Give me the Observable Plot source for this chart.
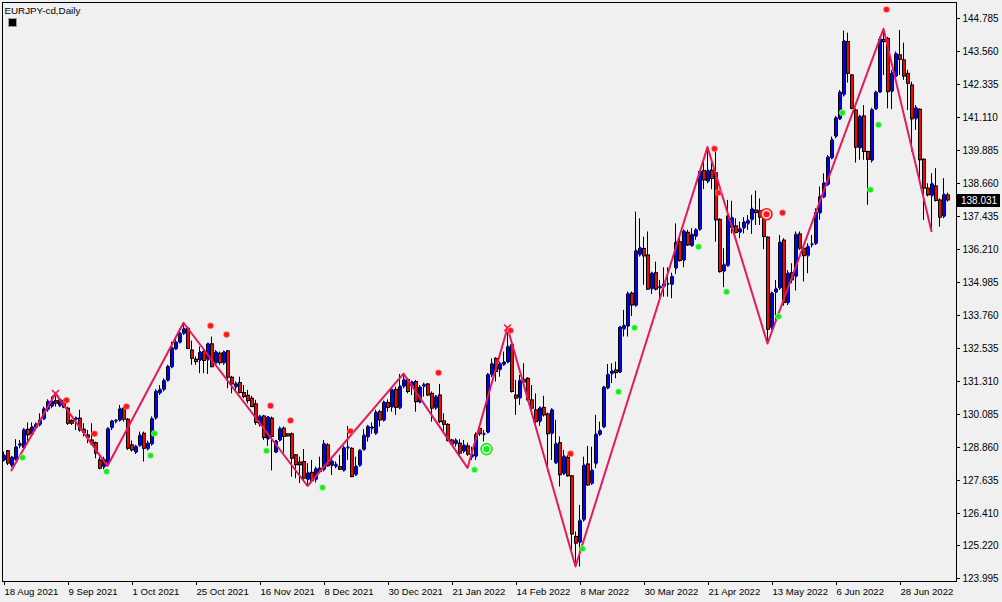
<!DOCTYPE html>
<html>
<head>
<meta charset="utf-8">
<script src="https://cdn.jsdelivr.net/npm/d3@7"></script>
<script src="https://cdn.jsdelivr.net/npm/@observablehq/plot@0.6"></script>
<style>
  html, body { margin: 0; padding: 0; background: #f0f0f0; }
  #chart { width: 1002px; height: 602px; position: relative; }
</style>
</head>
<body>
<div id="chart"></div>
<script>
// ---- data (EURJPY daily, bar index 0 = 18 Aug 2021) ----
const open = [128.36,128.72,128.16,128.38,128.90,128.81,129.52,129.31,129.56,129.68,129.89,130.24,130.36,130.58,130.38,130.58,130.30,129.84,129.87,129.93,
129.52,129.31,129.12,129.02,128.38,128.11,128.26,129.56,129.80,129.84,130.30,129.89,128.94,128.65,128.90,129.37,128.78,128.96,129.93,130.85,
130.98,131.32,131.82,132.49,132.73,133.06,133.27,132.46,132.12,132.07,132.40,132.09,132.69,131.97,132.34,131.97,132.43,131.45,131.08,131.25,
130.88,130.78,130.67,130.46,129.68,130.01,129.15,129.93,128.65,129.10,129.56,129.35,129.35,128.57,128.30,128.32,127.64,127.92,127.64,128.07,
128.01,128.94,128.16,128.13,128.13,127.98,128.81,128.81,127.82,128.16,128.75,129.22,129.54,129.35,130.17,129.84,130.51,130.33,131.00,130.30,
131.10,131.37,131.10,131.29,130.51,131.10,131.20,130.85,130.30,130.79,129.83,129.70,129.12,128.97,129.00,128.69,128.90,128.48,128.50,129.55,
129.31,129.39,131.53,132.15,131.72,131.91,132.00,132.65,130.79,130.67,131.37,131.41,130.61,130.24,129.80,130.33,130.09,129.35,128.26,129.02,
127.86,128.48,127.79,125.54,125.31,126.15,128.23,127.49,128.23,129.31,129.59,131.04,131.57,131.72,131.62,133.23,133.33,134.57,134.10,135.99,
136.23,135.99,134.72,135.33,134.75,134.81,134.89,134.88,135.49,136.48,135.78,136.83,136.32,136.67,136.92,139.12,138.71,139.14,139.04,137.31,
135.37,135.58,136.98,137.07,136.82,136.98,137.14,137.29,137.66,137.63,137.39,136.65,133.27,134.59,134.75,136.54,134.20,135.33,135.18,136.77,
136.24,135.95,136.36,136.40,137.54,138.13,138.59,139.58,140.38,141.03,141.93,143.91,142.67,141.37,139.95,141.15,139.83,139.49,141.40,142.02,
143.99,144.03,142.05,142.61,143.42,143.23,142.73,142.30,141.04,141.40,139.54,138.47,138.18,138.55,138.03,137.41,138.22];
const high = [128.69,128.75,128.53,129.15,129.12,129.56,129.77,129.77,129.77,130.11,130.36,130.63,130.73,130.79,130.67,130.63,130.36,129.89,129.99,130.24,
129.74,129.49,129.74,129.06,128.50,128.50,129.58,129.87,129.89,130.42,130.36,129.93,129.10,128.94,129.43,129.43,129.10,129.99,131.00,131.16,
131.41,131.91,132.77,132.95,133.27,133.48,133.33,132.81,132.22,132.59,132.52,132.73,132.96,132.46,132.40,132.44,132.46,131.50,131.29,131.47,
131.16,130.98,130.76,130.61,130.05,130.05,130.01,129.99,129.12,129.62,129.62,129.37,129.40,128.60,128.50,128.78,128.26,128.38,128.13,128.50,
129.12,129.00,128.44,128.32,128.57,128.90,129.64,128.85,128.50,128.78,129.52,129.68,129.77,130.24,130.24,130.58,130.63,131.04,131.10,131.57,
131.60,131.41,131.32,131.35,131.16,131.25,131.23,130.92,130.79,131.20,130.11,129.74,129.16,129.18,129.15,129.12,129.02,128.87,129.40,129.62,
129.49,131.60,132.15,132.19,132.03,132.40,133.23,132.71,131.35,131.53,131.97,131.45,131.16,130.85,130.36,130.76,130.14,130.30,129.87,129.25,
128.75,128.57,127.82,125.72,126.71,128.50,128.90,128.87,130.05,129.80,131.13,131.94,131.97,132.03,133.35,133.95,134.63,134.63,137.60,137.35,
136.67,136.86,135.37,135.74,135.06,135.53,135.53,135.33,137.16,136.67,136.94,136.92,136.98,136.98,139.14,139.51,140.03,139.51,140.01,137.35,
136.24,138.03,138.00,137.35,137.23,137.39,137.47,138.22,138.38,138.09,137.60,136.67,134.63,135.06,136.73,136.61,135.43,135.68,136.86,136.86,
136.36,136.42,136.73,137.72,138.53,139.02,139.70,140.38,141.15,142.11,144.32,144.24,142.71,141.43,141.19,141.55,139.86,141.45,142.09,144.09,
144.37,144.09,142.86,143.54,144.34,143.87,142.86,142.42,141.55,141.43,139.58,138.65,139.02,139.21,138.09,138.84,138.30];
const low = [128.32,128.19,128.11,128.36,128.81,128.78,128.97,129.25,129.47,129.62,129.87,130.17,130.30,130.36,130.34,130.30,129.68,129.68,129.49,129.43,
129.25,129.00,128.94,128.44,128.03,128.03,128.19,129.49,129.74,129.80,129.80,128.75,128.69,128.60,128.88,128.32,128.73,128.91,129.87,130.79,
130.92,131.29,131.78,132.46,132.71,133.02,132.49,131.91,131.91,131.60,131.60,131.57,131.82,131.91,131.91,131.91,131.04,130.85,130.98,130.85,
130.67,130.48,130.34,129.68,129.62,129.12,128.90,127.99,128.63,129.06,128.65,129.25,127.76,127.70,127.52,127.64,127.45,127.58,127.54,127.89,
127.95,128.13,127.82,128.07,128.01,127.95,128.38,127.74,127.79,128.13,128.73,129.06,129.35,129.31,129.62,129.80,130.17,130.17,130.05,130.26,
131.04,130.85,130.79,130.17,130.48,130.73,130.75,129.80,130.24,129.74,129.43,129.06,128.94,128.87,128.57,128.63,128.53,128.38,128.38,129.27,
129.06,129.37,131.45,131.29,131.47,131.87,131.97,130.88,130.05,130.42,131.23,130.55,130.24,129.74,129.64,129.99,127.95,128.38,128.23,127.39,
127.82,127.76,125.04,124.57,124.42,126.09,127.42,127.45,128.07,129.27,129.56,131.00,131.23,131.41,131.60,132.96,132.96,133.72,134.07,135.93,
134.88,134.69,134.54,134.67,134.32,134.44,134.44,134.38,135.28,135.74,135.53,136.32,136.30,136.55,136.89,138.43,138.65,138.43,136.48,135.33,
134.79,135.56,136.79,136.79,136.61,136.79,136.92,136.77,137.10,137.10,136.20,132.77,133.21,133.55,134.69,134.10,134.13,134.94,134.67,136.17,
135.00,135.31,136.27,136.36,137.30,138.09,138.55,139.54,140.32,141.00,141.87,142.39,141.40,139.42,139.52,139.52,137.85,139.42,141.37,142.00,
142.67,141.43,141.40,142.55,142.67,142.49,141.37,139.83,140.63,138.80,137.29,138.16,136.92,137.97,137.04,137.35,137.97];
const close = [128.57,128.26,128.50,128.88,129.00,129.52,129.31,129.62,129.72,129.89,130.30,130.57,130.58,130.48,130.64,130.34,129.74,129.74,129.95,129.49,
129.40,129.22,128.97,128.63,128.07,128.41,129.56,129.84,129.87,130.30,129.89,128.81,128.75,128.90,129.31,128.81,129.02,129.93,130.95,131.01,
131.35,131.87,132.56,132.77,133.10,133.27,132.52,132.15,132.03,132.40,132.07,132.71,131.84,132.40,131.99,132.40,131.45,131.20,131.23,130.88,
130.73,130.58,130.36,129.77,130.01,129.21,129.99,129.25,129.10,129.56,129.25,129.27,128.44,128.20,128.20,127.70,127.92,127.61,128.07,127.95,
129.00,128.16,128.35,128.23,128.03,128.85,128.87,127.76,128.16,128.75,129.31,129.64,129.62,130.17,129.86,130.54,130.33,131.00,130.33,131.13,
131.37,130.92,131.29,130.54,131.10,131.20,130.79,130.30,130.75,129.80,129.70,129.10,128.97,129.12,128.63,128.94,128.59,128.60,129.35,129.35,
129.37,131.57,131.97,131.66,131.97,132.03,132.61,130.92,130.67,131.35,131.27,130.61,130.30,129.80,130.33,130.05,129.35,130.26,129.00,127.83,
128.53,127.79,125.63,125.29,126.15,128.20,127.45,128.01,129.35,129.49,131.10,131.57,131.70,131.62,133.33,133.39,134.57,134.13,136.17,136.27,
135.95,134.72,135.33,134.72,134.84,134.94,134.94,135.21,136.48,135.78,136.89,136.36,136.77,136.94,139.12,138.77,139.14,138.83,137.29,135.37,
135.65,137.47,137.39,136.82,136.98,137.23,137.29,137.72,137.56,137.39,136.67,133.23,134.59,134.75,136.48,134.22,135.33,135.06,136.77,136.24,
135.96,136.32,136.42,137.60,138.18,138.68,139.64,140.28,141.10,142.05,143.95,142.73,141.43,139.99,141.15,139.83,139.54,141.40,142.05,144.03,
143.91,142.05,142.76,143.48,143.25,142.63,142.36,141.04,141.47,139.52,138.47,138.22,138.65,138.01,137.39,138.25,138.031];

// zigzag pivots (bar index, price)
const zigzagIndex = [2, 13, 26, 45, 76, 100, 116, 126, 143, 176, 191, 220, 232];
const zigzagPrice = [128.01, 130.86, 128.17, 133.49, 127.43, 131.60, 128.10, 133.30, 124.44, 140.01, 132.72, 144.40, 136.89];

// signal dots
const sellIndex = [16, 23, 31, 52, 56, 67, 72, 87, 109, 127, 142, 178, 179, 195, 221];
const sellPrice = [130.61, 129.37, 130.38, 133.38, 133.05, 130.41, 129.86, 129.46, 131.63, 133.20, 128.63, 139.95, 138.32, 137.57, 145.12];
const buyIndex = [5, 26, 37, 38, 66, 80, 118, 145, 154, 158, 174, 181, 194, 210, 217, 219];
const buyPrice = [128.49, 127.97, 128.56, 129.38, 128.74, 127.37, 128.03, 125.10, 130.93, 133.30, 136.31, 134.64, 133.72, 141.29, 138.43, 140.84];
const sellRingIndex = [191], sellRingPrice = [137.52];
const buyRingIndex = [121], buyRingPrice = [128.80];

// axes
const xTickIndex = [0, 16, 32, 48, 64, 80, 96, 112, 128, 144, 160, 176, 192, 208, 224];
const xTickLabels = ["18 Aug 2021", "9 Sep 2021", "1 Oct 2021", "25 Oct 2021", "16 Nov 2021", "8 Dec 2021", "30 Dec 2021",
  "21 Jan 2022", "14 Feb 2022", "8 Mar 2022", "30 Mar 2022", "21 Apr 2022", "13 May 2022", "6 Jun 2022", "28 Jun 2022"];
const yTicks = [144.785, 143.560, 142.335, 141.110, 139.885, 138.660, 137.435, 136.210, 134.985, 133.760, 132.535,
  131.310, 130.085, 128.860, 127.635, 126.410, 125.220, 123.995];
const symbolTitle = "EURJPY-cd,Daily";

// ---- build ----
const bars = open.map((o, i) => ({i, o, h: Math.max(high[i], o, close[i]), l: Math.min(low[i], o, close[i]), c: close[i]}));
const zz = zigzagIndex.map((i, k) => ({i, p: zigzagPrice[k]}));
const sells = sellIndex.map((i, k) => ({i, p: sellPrice[k]}));
const buys = buyIndex.map((i, k) => ({i, p: buyPrice[k]}));
const sellRings = sellRingIndex.map((i, k) => ({i, p: sellRingPrice[k]}));
const buyRings = buyRingIndex.map((i, k) => ({i, p: buyRingPrice[k]}));
const zzPeaks = [zz[1], zz[7]];
const labelOf = new Map(xTickIndex.map((d, k) => [d, xTickLabels[k]]));
const PX_PER_UNIT = 579 / (145.379 - 123.884);
const bodies = bars.filter(d => Math.abs(d.o - d.c) * PX_PER_UNIT > 1.2);
const bullBodies = bodies.filter(d => d.c >= d.o);
const bearBodies = bodies.filter(d => d.c < d.o);

const BULL = "#0000ff", BEAR = "#ff0000", ZZ = "#e6195e", RED = "#ff1414", GREEN = "#18ec18";
const FONT = "'Liberation Sans', Arial, sans-serif";

const chart = Plot.plot({
  width: 1002,
  height: 602,
  marginLeft: 2,
  marginRight: 46,
  marginTop: 2,
  marginBottom: 21,
  x: {domain: [-0.25, 238.25]},
  y: {domain: [123.884, 145.379]},
  style: {background: "#f0f0f0", fontFamily: FONT, fontSize: "10px", color: "#000", overflow: "visible"},
  marks: [
    Plot.axisY({anchor: "right", ticks: yTicks, tickFormat: d => d.toFixed(3), tickSize: 3, tickPadding: 3, label: null, fontSize: 10}),
    Plot.axisX({ticks: xTickIndex, tickFormat: d => labelOf.get(d), tickSize: 4, tickPadding: 3, textAnchor: "start", dx: 1, label: null, fontSize: 9.6}),
    // wick
    Plot.ruleX(bars, {x: "i", y1: "l", y2: "h", stroke: "#000", strokeWidth: 1}),
    // body: 4px black outline, 2px coloured core
    Plot.ruleX(bars, {x: "i", y1: "o", y2: "c", insetTop: -0.5, insetBottom: -0.5, dx: 0.5, stroke: "#000", strokeWidth: 4, strokeLinecap: "butt"}),
    Plot.ruleX(bullBodies, {x: "i", y1: "o", y2: "c", insetTop: 0.5, insetBottom: 0.5, dx: 0.5, stroke: BULL, strokeWidth: 2, strokeLinecap: "butt"}),
    Plot.ruleX(bearBodies, {x: "i", y1: "o", y2: "c", insetTop: 0.5, insetBottom: 0.5, dx: 0.5, stroke: BEAR, strokeWidth: 2, strokeLinecap: "butt"}),
    Plot.line(zz, {x: "i", y: "p", stroke: ZZ, strokeWidth: 2}),
    Plot.dot(zzPeaks, {x: "i", y: "p", symbol: "times", r: 3.2, stroke: ZZ, strokeWidth: 1.6}),
    Plot.dot(sells, {x: "i", y: "p", r: 3.3, fill: "#ff7a7a", dx: -1}),
    Plot.dot(sells, {x: "i", y: "p", r: 2.5, fill: RED, dx: -1}),
    Plot.dot(buys, {x: "i", y: "p", r: 3.3, fill: "#8cff8c", dx: -1}),
    Plot.dot(buys, {x: "i", y: "p", r: 2.5, fill: GREEN, dx: -1}),
    Plot.dot(sellRings, {x: "i", y: "p", r: 5.5, fill: "#ffd8d8", stroke: RED, strokeWidth: 1.6, dx: -1}),
    Plot.dot(sellRings, {x: "i", y: "p", r: 3, fill: RED, dx: -1}),
    Plot.dot(buyRings, {x: "i", y: "p", r: 5.5, fill: "#d8ffd8", stroke: GREEN, strokeWidth: 1.6, dx: -1}),
    Plot.dot(buyRings, {x: "i", y: "p", r: 3.2, fill: GREEN, dx: -1}),
    Plot.frame({stroke: "#000"}),
    Plot.text([symbolTitle], {frameAnchor: "top-left", dx: 2, dy: 5, fontSize: 9.8, fill: "#000"})
  ]
});

document.getElementById("chart").appendChild(chart);

// last price tag on the right axis, positioned with the plot's y scale
const yScale = chart.scale("y");
const last = close[close.length - 1];
const yPix = Math.round(yScale.apply(last));
const svg = d3.select(chart);
svg.append("rect").attr("x", 957).attr("y", yPix - 6).attr("width", 43).attr("height", 13).attr("fill", "#000");
svg.append("text").attr("x", 961).attr("y", yPix + 4).attr("text-anchor", "start")
  .attr("fill", "#fff").attr("font-family", FONT).attr("font-size", 10).text(last.toFixed(3));
// small symbol icon under the title
svg.append("rect").attr("x", 8.5).attr("y", 18.5).attr("width", 8).attr("height", 8)
  .attr("fill", "#000").attr("stroke", "#9a9a9a").attr("stroke-width", 1);
</script>
</body>
</html>
